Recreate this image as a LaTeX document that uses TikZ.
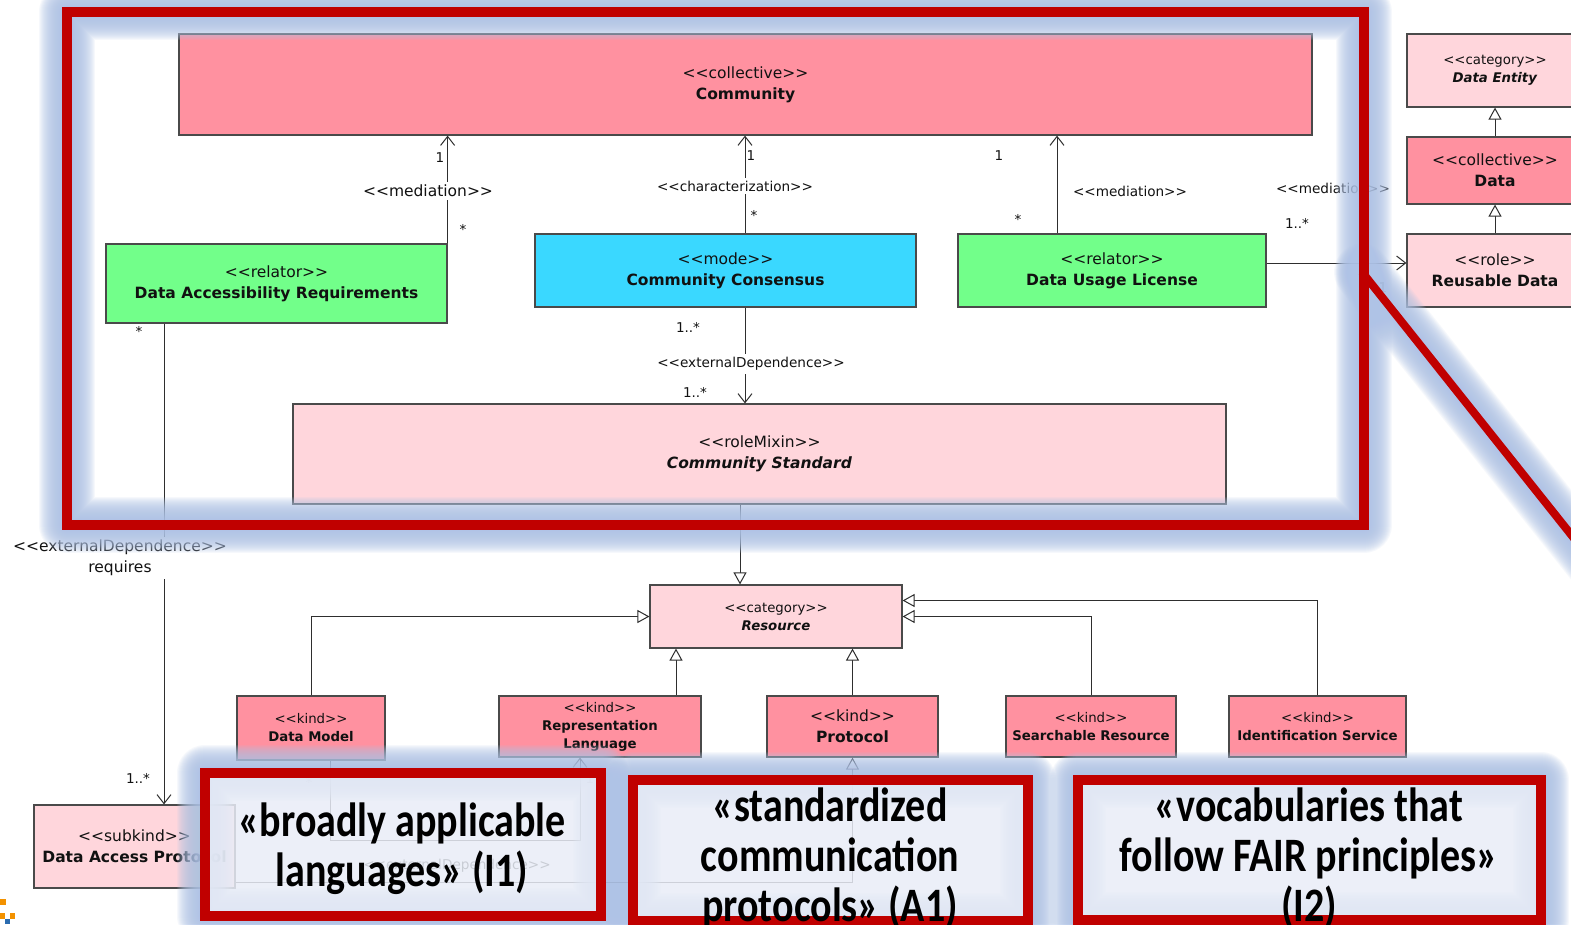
\documentclass[tikz,border=0pt]{standalone}
\usepackage{fontspec}
\usetikzlibrary{arrows.meta,calc}
\newfontfamily\umlfont{DejaVu Sans}[Ligatures=TeXOff]
\newfontfamily\notefont{Carlito}[Ligatures=TeXOff]
\definecolor{umlpink}{HTML}{FF91A0}
\definecolor{umllight}{HTML}{FFD6DC}
\definecolor{umlgreen}{HTML}{72FF8A}
\definecolor{umlcyan}{HTML}{3AD8FF}
\definecolor{umledge}{HTML}{4A4A4A}
\definecolor{umlline}{HTML}{2E2E2E}
\definecolor{umltext}{HTML}{111111}
\definecolor{hlred}{HTML}{C00000}
\definecolor{hlglow}{HTML}{AFC3E6}
\definecolor{hlfill}{HTML}{E9EDF7}
\definecolor{logoorange}{HTML}{F39200}
\definecolor{logoblue}{HTML}{2B6CB0}
% stereotype text
\newcommand\st[1]{<<#1>>}
% tall condensed line for the note texts
\newcommand\tall[1]{\scalebox{1}[1.2]{#1}}
% soft halo drawn as many thin translucent strokes
\newcommand\glowalong[1]{%
  \foreach \w in {12,14,...,56}{%
    \draw[hlglow, line width=\w pt, opacity=0.1, line join=round, line cap=round] #1;}}
\tikzset{
  umlbox/.style={draw=umledge, line width=1.2pt, inner sep=0pt, align=center,
    text=umltext, font=\umlfont\fontsize{15.5}{21}\selectfont},
  umlsmall/.style={umlbox, font=\umlfont\fontsize{13.3}{18}\selectfont},
  assoc/.style={draw=umlline, line width=1pt, -{Straight Barb[length=9pt,width=14pt]}},
  gen/.style={draw=umlline, line width=1pt, -{Triangle[length=12pt,width=13pt,fill=white]}},
  lbl/.style={text=umltext, inner sep=1pt, font=\umlfont\fontsize{13.6}{17}\selectfont},
  lblbig/.style={lbl, font=\umlfont\fontsize{15.5}{21}\selectfont},
  mult/.style={lbl, font=\umlfont\fontsize{13.5}{17}\selectfont},
  gap/.style={fill=white, inner sep=3pt, align=center},
  callout/.style={draw=hlred, line width=10pt, fill=hlfill, fill opacity=0.85},
  notetext/.style={align=center, text=black, inner sep=0pt,
    font=\notefont\bfseries\fontsize{40}{50}\selectfont},
}
\begin{document}
\begin{tikzpicture}[x=1pt,y=-1pt]
\useasboundingbox (0,0) rectangle (1571,924);
\clip (0,0) rectangle (1571,924);
\fill[white] (0,0) rectangle (1571,924);

% ---- classes ----
\node[umlbox, fill=umlpink, minimum width=1133pt, minimum height=101pt] (comm) at (745.5,84.5) {\st{collective}\\\textbf{Community}};
\node[umlbox, fill=umlgreen, minimum width=341pt, minimum height=79pt] (dar) at (276.5,283.5) {\st{relator}\\\textbf{Data Accessibility Requirements}};
\node[umlbox, fill=umlcyan, minimum width=381pt, minimum height=73pt] (cc) at (725.5,270.5) {\st{mode}\\\textbf{Community Consensus}};
\node[umlbox, fill=umlgreen, minimum width=308pt, minimum height=73pt] (dul) at (1112,270.5) {\st{relator}\\\textbf{Data Usage License}};
\node[umlsmall, fill=umllight, minimum width=176pt, minimum height=73pt] (dent) at (1495,70.5) {\st{category}\\\textbf{\itshape Data Entity}};
\node[umlbox, fill=umlpink, minimum width=176pt, minimum height=67pt] (data) at (1495,170.5) {\st{collective}\\\textbf{Data}};
\node[umlbox, fill=umllight, minimum width=176pt, minimum height=73pt] (rdata) at (1495,270.5) {\st{role}\\\textbf{Reusable Data}};
\node[umlbox, fill=umllight, minimum width=933pt, minimum height=100pt] (cstd) at (759.5,454) {\st{roleMixin}\\\textbf{\itshape Community Standard}};
\node[umlsmall, fill=umllight, minimum width=252pt, minimum height=63pt] (res) at (776,616.5) {\st{category}\\\textbf{\itshape Resource}};
\node[umlsmall, fill=umlpink, minimum width=148pt, minimum height=64pt] (dm) at (311,728) {\st{kind}\\\textbf{Data Model}};
\node[umlsmall, fill=umlpink, minimum width=202pt, minimum height=61pt] (rl) at (600,726.5) {\st{kind}\\\textbf{Representation}\\\textbf{Language}};
\node[umlbox, fill=umlpink, minimum width=171pt, minimum height=61pt] (prot) at (852.5,726.5) {\st{kind}\\\textbf{Protocol}};
\node[umlsmall, fill=umlpink, minimum width=170pt, minimum height=61pt] (sres) at (1091,726.5) {\st{kind}\\\textbf{Searchable Resource}};
\node[umlsmall, fill=umlpink, minimum width=177pt, minimum height=61pt] (ids) at (1317.5,726.5) {\st{kind}\\\textbf{Identification Service}};
\node[umlbox, fill=umllight, minimum width=201pt, minimum height=83pt] (dap) at (134.5,846.5) {\st{subkind}\\\textbf{Data Access Protocol}};

% ---- routing helpers ----
\coordinate (xcc) at (745,0);
\coordinate (xdul) at (1057,0);
\coordinate (ymed) at (0,263);
\coordinate (xcs) at (740,0);
\coordinate (xrl) at (676,0);
\coordinate (xreq) at (164,0);
\coordinate (ua) at (330,840);
\coordinate (ub) at (580,840);
\coordinate (gp) at (852.5,882);

% ---- relations ----
\draw[assoc] (dar.north east) -- (dar.north east |- comm.south);
\draw[assoc] (cc.north -| xcc) -- (comm.south -| xcc);
\draw[assoc] (dul.north -| xdul) -- (comm.south -| xdul);
\draw[assoc] (dul.east |- ymed) -- (rdata.west |- ymed);
\draw[gen] (data.north) -- (dent.south);
\draw[gen] (rdata.north) -- (data.south);
\draw[assoc] (cc.south -| xcc) -- (cstd.north -| xcc);
\draw[gen] (cstd.south -| xcs) -- (res.north -| xcs);
\draw[gen] (dm.north) |- (res.west);
\draw[gen] (rl.north -| xrl) -- (res.south -| xrl);
\draw[gen] (prot.north) -- (prot.north |- res.south);
\draw[gen] (sres.north) |- (res.east);
\draw[gen] (ids.north) |- ($(res.east)+(0,-16)$);
\draw[assoc] (dar.south -| xreq) -- (dap.north -| xreq);
\draw[assoc] (dm.south -| ua) -- (ua) -- (ub) -- (rl.south -| ub);
\draw[gen] (dap.east |- gp) -| (prot.south);

% ---- relation labels ----
\node[mult] (m1) at (440,158) {1};
\node[lblbig, gap] (l1) at (428,191) {\st{mediation}};
\node[mult] (m2) at (463,229) {*};
\node[mult] (m3) at (751,156) {1};
\node[lbl, gap] (l2) at (735,186) {\st{characterization}};
\node[mult] (m4) at (754,215) {*};
\node[mult] (m5) at (999,156) {1};
\node[lbl] (l3) at (1130,191) {\st{mediation}};
\node[mult] (m6) at (1018,219) {*};
\node[lbl] (l4) at (1333,188) {\st{mediation}};
\node[mult] (m7) at (1297,223) {1..*};
\node[mult] (m8) at (1383,288) {1};
\node[mult] (m9) at (688,327) {1..*};
\node[lbl, gap] (l5) at (751,364) {\st{externalDependence}};
\node[mult] (m10) at (695,392) {1..*};
\node[mult] (m11) at (139,331) {*};
\node[lblbig, gap] (l6) at (120,558) {\st{externalDependence}\\requires};
\node[mult] (m12) at (138,778) {1..*};
\node[mult] (m13) at (309,782) {*};
\node[mult] (m14) at (590,779) {1};
\node[lbl] (l7) at (457,866) {\st{externalDependence}};

% ---- highlighted region and pointer ----
\coordinate (fa) at (67,12);
\coordinate (fb) at (1364,525);
\coordinate (da) at (1362,272);
\coordinate (db) at (1600,571);
\glowalong{(fa) rectangle (fb)}
\glowalong{(da) -- (db)}
\draw[hlred, line width=10pt] (fa) rectangle (fb);
\draw[hlred, line width=8pt] (da) -- (db);

% ---- callouts ----
\coordinate (c1a) at (205,773); \coordinate (c1b) at (601,916);
\coordinate (c2a) at (633,780); \coordinate (c2b) at (1028,921);
\coordinate (c3a) at (1078,780); \coordinate (c3b) at (1541,920);
\glowalong{(c1a) rectangle (c1b)}
\glowalong{(c2a) rectangle (c2b)}
\glowalong{(c3a) rectangle (c3b)}
\path[callout] (c1a) rectangle (c1b);
\path[callout] (c2a) rectangle (c2b);
\path[callout] (c3a) rectangle (c3b);
\node[notetext] (n1) at (402,849) {\tall{«broadly applicable}\\\tall{languages» (I1)}};
\node[notetext] (n2) at (830,858) {\tall{«standardized}\\\tall{communication}\\\tall{protocols» (A1)}};
\node[notetext] (n3) at (1309,858) {\tall{«vocabularies that}\\\tall{follow FAIR principles»}\\\tall{(I2)}};

% ---- logo corner ----
\fill[logoorange] (0,899) rectangle (6,905);
\fill[logoorange] (0,913) rectangle (5,919);
\fill[logoorange] (10,913) rectangle (15,919);
\fill[logoblue] (5,919) rectangle (10,924);
\end{tikzpicture}
\end{document}
